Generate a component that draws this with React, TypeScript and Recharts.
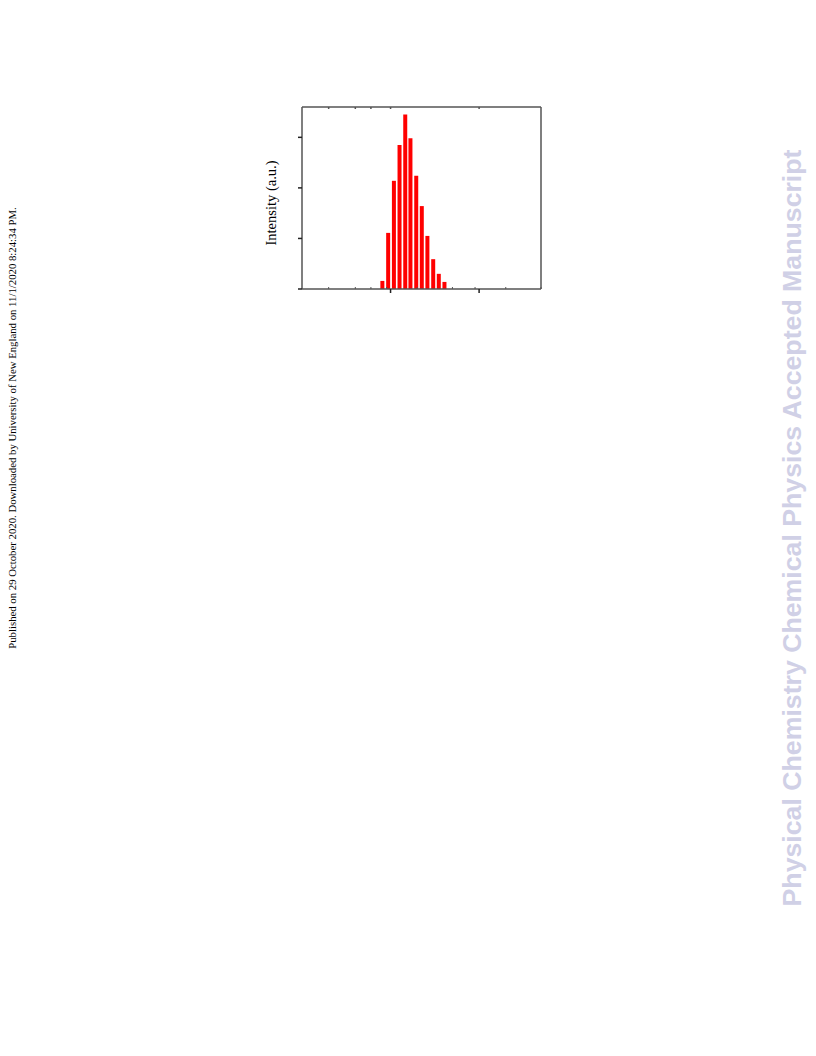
import React from "react";
import { Bar, BarChart, XAxis, YAxis } from "recharts";

// log-binned histogram: bin centres and intensities (a.u.)
const binCenters = [8.0, 9.3, 10.8, 12.5, 14.5, 16.6, 19.3, 22.3, 25.8, 30.0, 34.7, 40.2];
const intensities = [0.16, 1.11, 2.14, 2.85, 3.45, 2.98, 2.24, 1.64, 1.05, 0.59, 0.3, 0.14];

const xMajorTicks = [10, 100];
const xMinorTicks = [2, 3, 4, 5, 6, 7, 8, 9, 20, 30, 40, 50, 60, 70, 80, 90, 200, 300, 400, 500];
const yMajorTicks = [0, 1, 2, 3];
const yMinorTicks = [0.5, 1.5, 2.5, 3.5];

const data = binCenters.map((x, i) => ({ x, y: intensities[i] }));

const AXIS = "#555";
const noLabel = () => <g />;

export default function App() {
  return (
    <div
      style={{
        position: "absolute",
        left: 0,
        top: 0,
        width: 816,
        height: 1056,
        background: "#fff",
        overflow: "hidden",
      }}
    >
      <div style={{ position: "absolute", left: 240, top: 80 }}>
        <BarChart
          width={320}
          height={230}
          data={data}
          margin={{ top: 27, right: 19, bottom: 1, left: 52 }}
        >
          <XAxis
            xAxisId="b"
            dataKey="x"
            type="number"
            scale="log"
            domain={[1, 500]}
            allowDataOverflow
            ticks={xMajorTicks}
            tick={noLabel}
            tickLine={{ stroke: "#222" }}
            tickSize={4}
            height={20}
            stroke={AXIS}
            strokeWidth={1.5}
          />
          <XAxis
            xAxisId="bm"
            dataKey="x"
            type="number"
            scale="log"
            domain={[1, 500]}
            allowDataOverflow
            ticks={xMinorTicks}
            tick={noLabel}
            tickSize={2}
            mirror
            axisLine={false}
            stroke={AXIS}
          />
          <XAxis
            xAxisId="t"
            orientation="top"
            dataKey="x"
            type="number"
            scale="log"
            domain={[1, 500]}
            allowDataOverflow
            ticks={[...xMinorTicks, ...xMajorTicks]}
            tick={noLabel}
            tickSize={2}
            mirror
            stroke={AXIS}
            strokeWidth={1.5}
          />
          <YAxis
            yAxisId="l"
            type="number"
            domain={[0, 3.6]}
            ticks={yMajorTicks}
            tick={noLabel}
            tickLine={{ stroke: "#222" }}
            tickSize={4}
            width={10}
            stroke={AXIS}
            strokeWidth={1.5}
          />
          <YAxis
            yAxisId="lm"
            type="number"
            domain={[0, 3.6]}
            ticks={yMinorTicks}
            tick={noLabel}
            tickSize={2}
            mirror
            axisLine={false}
            stroke={AXIS}
          />
          <YAxis
            yAxisId="r"
            orientation="right"
            type="number"
            domain={[0, 3.6]}
            ticks={[...yMinorTicks, ...yMajorTicks]}
            tick={noLabel}
            tickSize={2}
            mirror
            stroke={AXIS}
            strokeWidth={1.5}
          />
          <Bar
            xAxisId="b"
            yAxisId="l"
            dataKey="y"
            fill="#ff0000"
            barSize={4}
            isAnimationActive={false}
          />
        </BarChart>
      </div>

      <div
        style={{
          position: "absolute",
          left: 271,
          top: 203,
          transform: "translate(-50%, -50%) rotate(-90deg)",
          whiteSpace: "nowrap",
          fontFamily: "'Liberation Serif', 'Times New Roman', serif",
          fontSize: 14.5,
          color: "#000",
        }}
      >
        Intensity (a.u.)
      </div>

      <div
        style={{
          position: "absolute",
          left: 12,
          top: 428,
          transform: "translate(-50%, -50%) rotate(-90deg)",
          whiteSpace: "nowrap",
          fontFamily: "'Liberation Serif', 'Times New Roman', serif",
          fontSize: 10.75,
          color: "#000",
        }}
      >
        Published on 29 October 2020. Downloaded by University of New England on 11/1/2020 8:24:34 PM.
      </div>

      <div
        style={{
          position: "absolute",
          left: 792,
          top: 528,
          transform: "translate(-50%, -50%) rotate(-90deg)",
          whiteSpace: "nowrap",
          fontFamily: "'Liberation Sans', Arial, sans-serif",
          fontWeight: 700,
          fontSize: 26.7,
          color: "#d0d0e6",
        }}
      >
        Physical Chemistry Chemical Physics Accepted Manuscript
      </div>
    </div>
  );
}
